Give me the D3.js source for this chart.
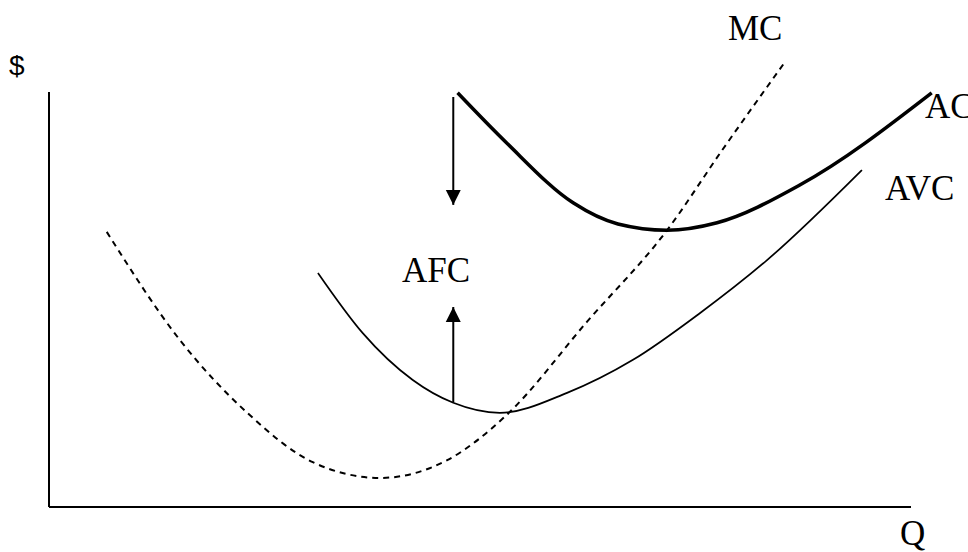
<!DOCTYPE html>
<html>
<head>
<meta charset="utf-8">
<script src="https://cdn.jsdelivr.net/npm/d3@7"></script>
<style>
  body { margin: 0; background: #fff; }
  svg text { font-family: "Liberation Serif", "Times New Roman", serif; fill: #000; }
</style>
</head>
<body>
<div id="chart"></div>
<script>
// curve points, [Q, $]
var mcPoints = [[6.7,66.3],[15.2,40.2],[23.0,22.7],[30.6,10.8],[38.4,7.0],[46.2,11.3],[53.1,22.2],[62.4,44.6],[71.7,66.7],[78.1,86.0],[85.3,107.0]]
var avcPoints = [[31.2,56.4],[36.4,41.9],[42.2,30.6],[46.9,25.1],[52.3,22.7],[60.1,27.5],[67.7,35.4],[75.5,46.7],[83.3,59.5],[94.3,81.2]]
var acPoints = [[47.4,99.8],[53.1,87.7],[60.8,73.3],[66.0,68.2],[71.7,66.7],[77.5,68.5],[87.1,77.6],[102.4,99.8]]
// AFC arrows: [Q, from $, to $]
var afcArrows = [[46.9,98.8,72.8],[46.9,25.3,48.2]]
var labels = ["MC","AC","AVC","AFC","$","Q"]

var w = 968
var h = 552

var svg = d3.select("#chart").append("svg")
    .attr("width",w)
    .attr("height",h)

var x = d3.scaleLinear().domain([0,100]).range([49,911])
var y = d3.scaleLinear().domain([0,100]).range([507,92])

svg.append("defs").append("marker")
    .attr("id","head")
    .attr("markerUnits","userSpaceOnUse")
    .attr("markerWidth",16).attr("markerHeight",16)
    .attr("refX",15).attr("refY",8)
    .attr("orient","auto")
    .append("path")
    .attr("d","M0,0.5 L15,8 L0,15.5 Z")
    .attr("fill","#000")

// axes
svg.append("line")
    .attr("x1",x(0)).attr("y1",y(100)).attr("x2",x(0)).attr("y2",y(0))
    .attr("stroke","#000").attr("stroke-width",2)
svg.append("line")
    .attr("x1",x(0)).attr("y1",y(0)).attr("x2",x(100)).attr("y2",y(0))
    .attr("stroke","#000").attr("stroke-width",2)

var line = d3.line()
    .x(function(d){return x(d[0])})
    .y(function(d){return y(d[1])})
    .curve(d3.curveMonotoneX)

svg.append("path").datum(mcPoints)
    .attr("d",line).attr("fill","none")
    .attr("stroke","#000").attr("stroke-width",2)
    .attr("stroke-dasharray","6,5")

svg.append("path").datum(avcPoints)
    .attr("d",line).attr("fill","none")
    .attr("stroke","#000").attr("stroke-width",1.7)

svg.append("path").datum(acPoints)
    .attr("d",line).attr("fill","none")
    .attr("stroke","#000").attr("stroke-width",3.5)

svg.selectAll(".afc")
    .data(afcArrows)
    .join("line")
    .attr("class","afc")
    .attr("x1",function(d){return x(d[0])})
    .attr("x2",function(d){return x(d[0])})
    .attr("y1",function(d){return y(d[1])})
    .attr("y2",function(d){return y(d[2])})
    .attr("stroke","#000").attr("stroke-width",2)
    .attr("marker-end","url(#head)")

// labels
svg.append("text").text(labels[0]).attr("x",728).attr("y",40).style("font-size","35px")
svg.append("text").text(labels[1]).attr("x",925).attr("y",118).style("font-size","35px")
svg.append("text").text(labels[2]).attr("x",885).attr("y",200).style("font-size","35px")
svg.append("text").text(labels[3]).attr("x",436).attr("y",282).attr("text-anchor","middle").style("font-size","35px")
svg.append("text").text(labels[4]).attr("x",9).attr("y",75)
    .style("font-family","'Liberation Sans', sans-serif").style("font-size","28px")
svg.append("text").text(labels[5]).attr("x",900).attr("y",545).style("font-size","35px")
</script>
</body>
</html>
